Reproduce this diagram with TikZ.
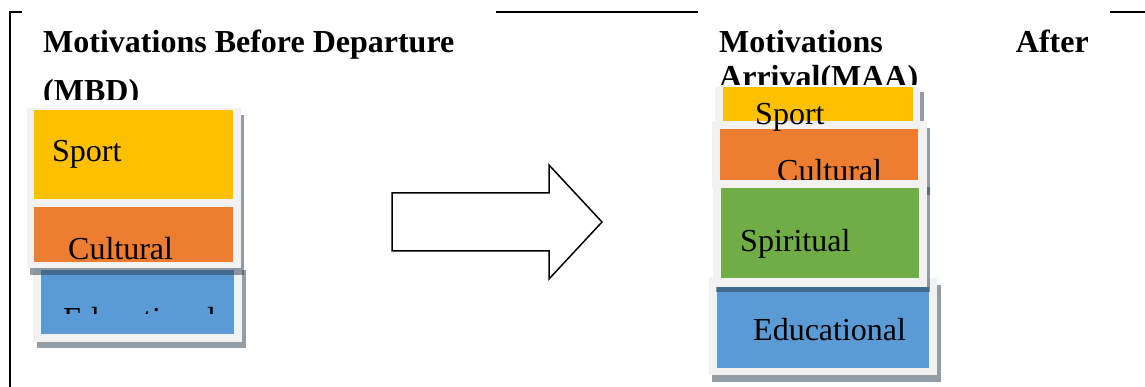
\documentclass[tikz,border=0pt]{standalone}
\usepackage{fontspec}
\setmainfont{Liberation Serif}
\usepackage{tikz}
\usetikzlibrary{positioning}

\definecolor{sportyellow}{HTML}{FFC000}
\definecolor{culturalorange}{HTML}{ED7D31}
\definecolor{spiritgreen}{HTML}{70AD47}
\definecolor{edublue}{HTML}{5B9BD5}
\definecolor{framegray}{HTML}{F2F2F2}
\definecolor{shadowtone}{HTML}{2A3A4A}

\begin{document}
\begin{tikzpicture}[%
  x=1pt, y=-1pt,%
  heading/.style={font=\fontsize{32}{38}\selectfont\bfseries, inner sep=0pt, anchor=base west},%
  motiv/.style={font=\fontsize{32}{38}\selectfont, inner sep=0pt, anchor=base west},%
  boxframe/.style={fill=framegray},%
  boxshadow/.style={fill=shadowtone, fill opacity=0.5},%
  rule/.style={line width=1.5pt, black}%
]
  \useasboundingbox (0,0) rectangle (1145,387);

  % page rules
  \draw[rule] (10,387) -- (10,12) -- (22,12);
  \draw[rule] (496,12) -- (698,12);
  \draw[rule] (1110,12) -- (1145,12);

  % titles
  \node[heading] (mbdtitle) at (43,53) {Motivations Before Departure};
  \begin{scope}
    \clip (30,60) rectangle (300,100);
    \node[heading] (mbdtag) at (43,102) {(MBD)};
  \end{scope}
  \node[heading] (maatitle) at (719,53) {Motivations};
  \node[heading, anchor=base east] (maaafter) at (1089,53) {After};
  \begin{scope}
    \clip (700,60) rectangle (1000,85);
    \node[heading] (maatag) at (719,88) {Arrival(MAA)};
  \end{scope}

  % left stack (before departure)
  \fill[boxshadow] (37,270) rectangle (246,348);
  \fill[boxframe] (33,263) rectangle (242,342);
  \fill[edublue] (41,270) rectangle (234,334);
  \begin{scope}
    \clip (41,270) rectangle (234,313);
    \node[motiv] (eduleft) at (63,329) {Educational};
  \end{scope}

  \fill[boxshadow] (30,115) rectangle (244,210);
  \fill[boxframe] (27,108) rectangle (241,203);
  \fill[sportyellow] (34,110) rectangle (233,199);
  \node[motiv] (sportleft) at (52,162) {Sport};

  \fill[boxshadow] (30,210) rectangle (244,275);
  \fill[boxframe] (27,203) rectangle (241,268);
  \fill[culturalorange] (34,207) rectangle (233,262);
  \begin{scope}
    \clip (34,207) rectangle (233,262);
    \node[motiv] (culturalleft) at (68,260) {Cultural};
  \end{scope}

  % arrow
  \draw[line width=1.5pt, fill=white, line join=miter]
    (392,193) -- (549,193) -- (549,165) -- (602,222) -- (549,279) -- (549,251) -- (392,251) -- cycle;

  % right stack (after arrival)
  \fill[boxshadow] (712,285) rectangle (941,382);
  \fill[boxframe] (709,278) rectangle (937,375);
  \fill[edublue] (717,287) rectangle (929,368);
  \node[motiv] (eduright) at (753,340) {Educational};

  \fill[boxshadow] (718,92) rectangle (924,131);
  \fill[boxframe] (715,87) rectangle (920,126);
  \fill[sportyellow] (723,87) rectangle (913,121);

  \fill[boxshadow] (715,128) rectangle (930,195);
  \fill[boxframe] (712,121) rectangle (927,188);
  \fill[culturalorange] (720,129) rectangle (918,180);
  \node[motiv] (culturalright) at (777,182) {Cultural};

  \fill[boxshadow] (716,187) rectangle (930,292);
  \fill[boxframe] (713,180) rectangle (927,287);
  \fill[spiritgreen] (721,188) rectangle (919,278);
  \node[motiv] (spiritright) at (740,252) {Spiritual};

  \begin{scope}
    \clip (700,85) rectangle (940,131);
    \node[motiv] (sportright) at (755,125) {Sport};
  \end{scope}
\end{tikzpicture}
\end{document}
